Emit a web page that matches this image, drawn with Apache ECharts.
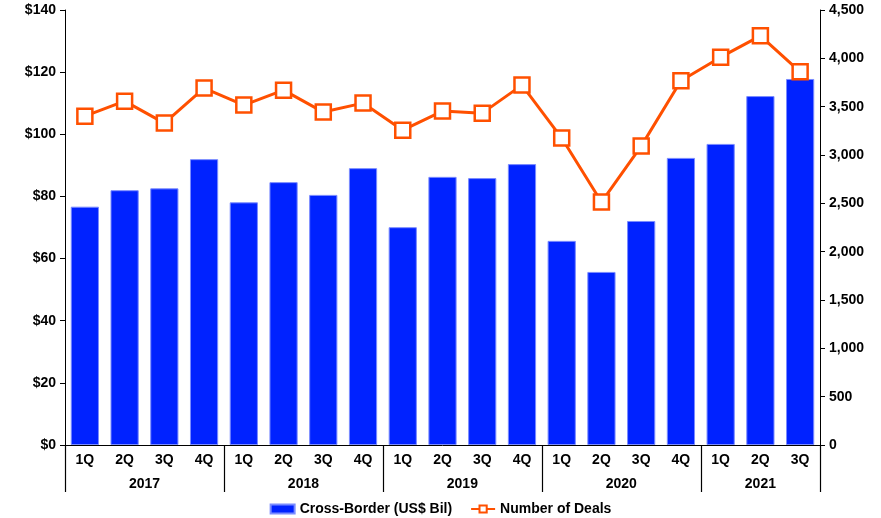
<!DOCTYPE html>
<html>
<head>
<meta charset="utf-8">
<script src="https://cdn.jsdelivr.net/npm/echarts@6/dist/echarts.min.js"></script>
<style>html,body{margin:0;padding:0;background:#fff}#c{width:881px;height:518px}</style>
</head>
<body>
<div id="c"></div>
<script>
var quarters = ['1Q','2Q','3Q','4Q','1Q','2Q','3Q','4Q','1Q','2Q','3Q','4Q','1Q','2Q','3Q','4Q','1Q','2Q','3Q'];
var years = ['2017','2018','2019','2020','2021'];
var quartersPerYear = [4,4,4,4,3];
var crossBorder = [76.7,82.0,82.6,92.0,78.1,84.6,80.5,89.1,70.1,86.3,85.9,90.4,65.7,55.7,72.1,92.4,96.9,112.3,117.8];
var deals = [3402,3557,3330,3692,3516,3671,3444,3537,3257,3454,3433,3723,3175,2513,3092,3768,4012,4233,3860];

// half-slot positions for year axis (boundaryGap false)
var totalHalf = quarters.length * 2;
var yearSlots = [];
for (var i = 0; i <= totalHalf; i++) yearSlots.push('');
var boundaries = {0: true};
var pos = 0;
for (var y = 0; y < years.length; y++) {
  var n = quartersPerYear[y] * 2;
  yearSlots[pos + n / 2] = years[y];
  pos += n;
  boundaries[pos] = true;
}

var font = 'Liberation Sans, Arial, sans-serif';
var chart = echarts.init(document.getElementById('c'));
chart.setOption({
  animation: false,
  grid: {left: 65, right: 61, top: 10, bottom: 73},
  legend: {
    bottom: -3, left: 'center', itemGap: 18, itemWidth: 24, itemHeight: 9,
    textStyle: {fontFamily: font, fontWeight: 'bold', fontSize: 14, color: '#000'},
    data: [
      {name: 'Cross-Border (US$ Bil)', icon: 'rect'},
      {name: 'Number of Deals'}
    ]
  },
  xAxis: [
    {
      type: 'category', data: quarters, position: 'bottom',
      axisLine: {lineStyle: {color: '#000', width: 1}},
      axisTick: {length: 23, lineStyle: {color: '#444', width: 1.5}},
      axisLabel: {margin: 8, fontFamily: font, fontWeight: 'bold', fontSize: 14, color: '#000'}
    },
    {
      type: 'category', data: yearSlots, position: 'bottom', boundaryGap: false,
      axisLine: {show: false},
      axisTick: {length: 47, lineStyle: {color: '#000', width: 1.2},
        interval: function (idx) { return !!boundaries[idx]; }},
      axisLabel: {margin: 32, interval: function (idx, v) { return v !== ''; },
        fontFamily: font, fontWeight: 'bold', fontSize: 14, color: '#000'}
    }
  ],
  yAxis: [
    {
      type: 'value', min: 0, max: 140, interval: 20, position: 'left',
      splitLine: {show: false},
      axisLine: {show: true, lineStyle: {color: '#000', width: 1}},
      axisTick: {show: true, length: 5, lineStyle: {color: '#000'}},
      axisLabel: {margin: 9, fontFamily: font, fontWeight: 'bold', fontSize: 14, color: '#000',
        formatter: function (v) { return '$' + v; }}
    },
    {
      type: 'value', min: 0, max: 4500, interval: 500, position: 'right',
      splitLine: {show: false},
      axisLine: {show: true, lineStyle: {color: '#000', width: 1}},
      axisTick: {show: true, length: 5, lineStyle: {color: '#000'}},
      axisLabel: {margin: 9, fontFamily: font, fontWeight: 'bold', fontSize: 14, color: '#000',
        formatter: function (v) { return v.toLocaleString('en-US'); }}
    }
  ],
  series: [
    {
      name: 'Cross-Border (US$ Bil)', type: 'bar', data: crossBorder,
      xAxisIndex: 0, yAxisIndex: 0, barCategoryGap: '29%',
      itemStyle: {color: '#0022ff', borderColor: '#7a8cff', borderWidth: 1}
    },
    {
      name: 'Number of Deals', type: 'line', data: deals,
      xAxisIndex: 0, yAxisIndex: 1,
      symbol: 'rect', symbolSize: 15, showAllSymbol: true,
      lineStyle: {color: '#ff5000', width: 3},
      itemStyle: {color: '#fff', borderColor: '#ff5000', borderWidth: 2.5}
    }
  ]
});
</script>
</body>
</html>
